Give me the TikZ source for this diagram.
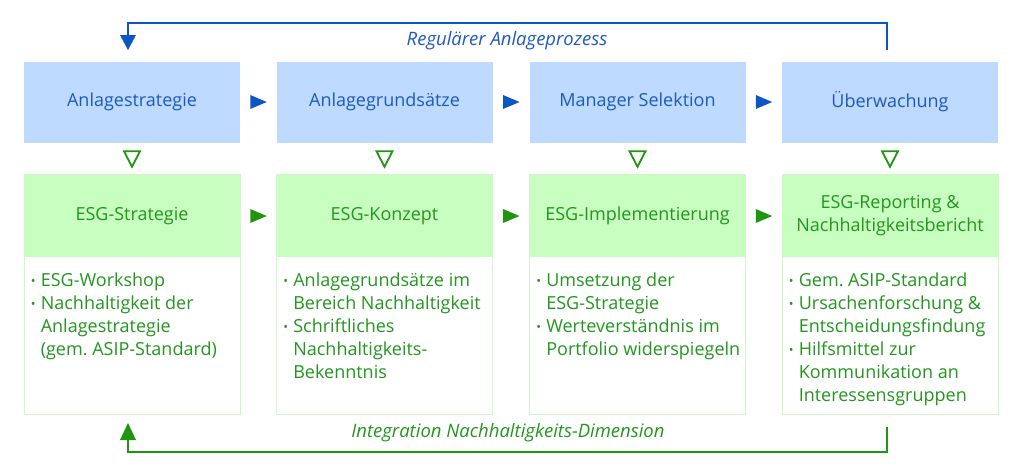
\documentclass[tikz,border=0pt]{standalone}
\usepackage{fontspec}
\setmainfont{Open Sans}
\usetikzlibrary{calc}
\frenchspacing
\definecolor{bfill}{RGB}{190,218,255}
\definecolor{btext}{RGB}{30,90,190}
\definecolor{barrow}{RGB}{12,85,196}
\definecolor{gfill}{RGB}{200,255,192}
\definecolor{gtext}{RGB}{34,150,30}
\definecolor{garrow}{RGB}{30,150,15}
\definecolor{gborder}{RGB}{210,245,205}
\newcommand{\bl}{\makebox[10pt][l]{\raisebox{0.08em}{\scalebox{0.7}{\textbullet}}}}
\newcommand{\il}{\hspace*{10pt}}
\tikzset{
  bluebox/.style={fill=bfill, minimum width=216pt, minimum height=81pt, inner sep=0pt, text=btext, font=\fontsize{18}{23}\selectfont},
  greenhead/.style={fill=gfill, minimum width=216pt, minimum height=82pt, inner sep=0pt, text=gtext, align=center, font=\fontsize{18}{23}\selectfont},
  bodybox/.style={draw=gborder, line width=0.8pt, minimum width=216pt, minimum height=240pt, inner sep=0pt},
  bodytext/.style={anchor=north west, inner sep=0pt, align=left, text=gtext, font=\fontsize{18}{23}\selectfont\frenchspacing},
  looplabel/.style={font=\fontsize{18.5}{22}\selectfont\itshape, inner sep=0pt},
}
\begin{document}
\begin{tikzpicture}[x=1pt,y=1pt]
\useasboundingbox (0,0) rectangle (1024,-475);
% columns
\foreach \i/\cx in {1/132, 2/384.5, 3/637.5, 4/890}{
  \node[bodybox] (g\i) at (\cx,-294) {};
}
\node[bluebox] (b1) at (132,-102) {Anlagestrategie};
\node[bluebox] (b2) at (384.5,-102) {Anlagegrundsätze};
\node[bluebox] (b3) at (637.5,-102) {Manager Selektion};
\node[bluebox] (b4) at (890,-102) {Überwachung};
\node[greenhead] (h1) at (132,-216) {ESG-Strategie};
\node[greenhead] (h2) at (384.5,-216) {ESG-Konzept};
\node[greenhead] (h3) at (637.5,-216) {ESG-Implementierung};
\node[greenhead] (h4) at (890,-216) {ESG-Reporting \&\\Nachhaltigkeitsbericht};
% body texts
\node[bodytext] (t1) at ($(g1.north west)+(7,-99)$) {\bl ESG-Workshop\\\bl Nachhaltigkeit der\\\il Anlagestrategie\\\il (gem. ASIP-Standard)};
\node[bodytext] (t2) at ($(g2.north west)+(7,-99)$) {\bl Anlagegrundsätze im\\\il Bereich Nachhaltigkeit\\\bl Schriftliches\\\il Nachhaltigkeits-\\\il Bekenntnis};
\node[bodytext] (t3) at ($(g3.north west)+(7,-99)$) {\bl Umsetzung der\\\il ESG-Strategie\\\bl Werteverständnis im\\\il Portfolio widerspiegeln};
\node[bodytext] (t4) at ($(g4.north west)+(7,-99)$) {\bl Gem. ASIP-Standard\\\bl Ursachenforschung \&\\\il Entscheidungsfindung\\\bl Hilfsmittel zur\\\il Kommunikation an\\\il Interessensgruppen};
% right-pointing triangles between columns
\foreach \a/\b in {b1/b2, b2/b3, b3/b4}{
  \coordinate (m) at ($(\a.east)!0.5!(\b.west)$);
  \fill[barrow] ($(m)+(-8,7)$) -- ($(m)+(8.5,0)$) -- ($(m)+(-8,-7)$) -- cycle;
}
\foreach \a/\b in {h1/h2, h2/h3, h3/h4}{
  \coordinate (m) at ($(\a.east)!0.5!(\b.west)$);
  \fill[garrow] ($(m)+(-8,7)$) -- ($(m)+(8.5,0)$) -- ($(m)+(-8,-7)$) -- cycle;
}
% down-pointing outline triangles
\foreach \i in {1,2,3,4}{
  \coordinate (m) at ($(b\i.south)!0.5!(h\i.north)$);
  \draw[garrow, line width=1.8pt, line join=miter] ($(m)+(-8,7.5)$) -- ($(m)+(8,7.5)$) -- ($(m)+(0,-8)$) -- cycle;
}
% top loop
\coordinate (ts) at (887,-50);
\coordinate (tt) at (128,-50);
\draw[barrow, line width=1.8pt] (ts) -- (887,-23) -- (128,-23) -- (128,-37);
\fill[barrow] (120,-35) -- (136,-35) -- (tt) -- cycle;
\node[looplabel, text=btext] (lt) at (507,-41) {Regulärer Anlageprozess};
% bottom loop
\coordinate (bs) at (887,-427);
\coordinate (bt) at (128,-423);
\draw[garrow, line width=1.8pt] (bs) -- (887,-452) -- (128,-452) -- (128,-438);
\fill[garrow] (120,-440) -- (136,-440) -- (bt) -- cycle;
\node[looplabel, text=gtext] (lb) at (508,-433) {Integration Nachhaltigkeits-Dimension};
\end{tikzpicture}
\end{document}
